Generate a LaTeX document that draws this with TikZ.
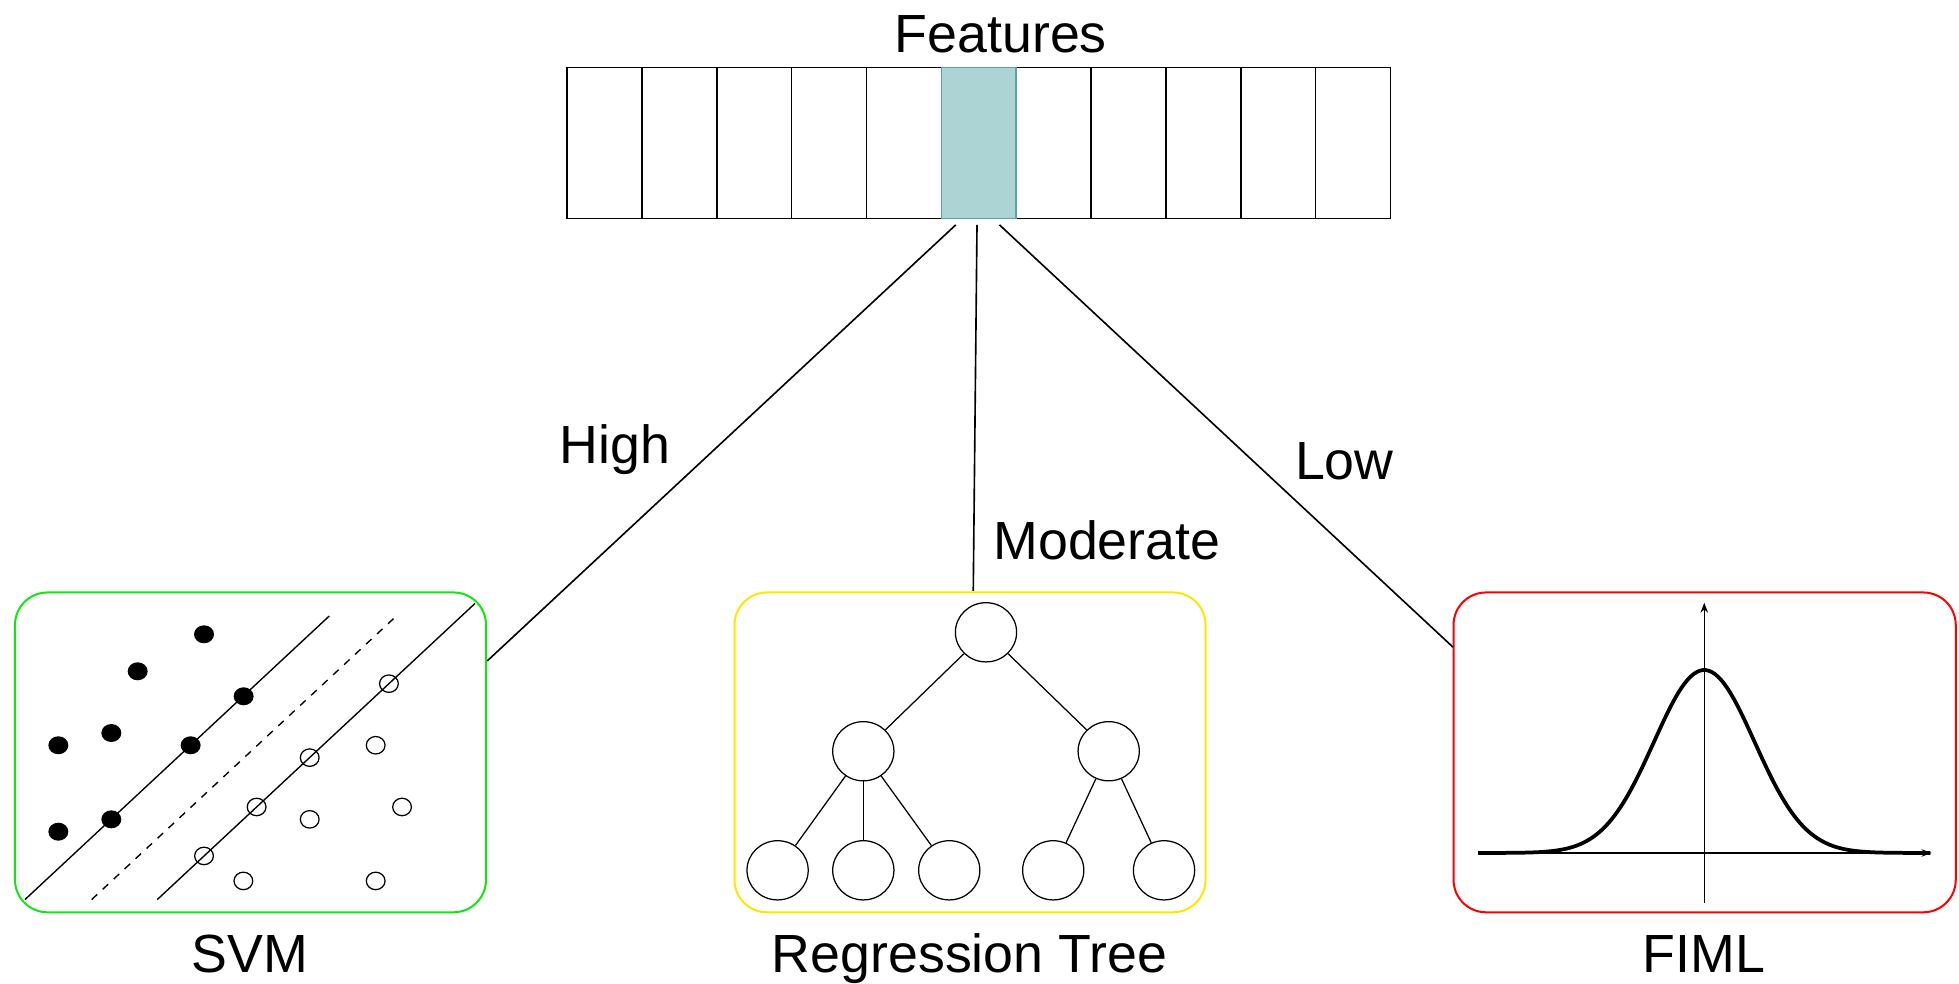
\documentclass[tikz,border=0pt]{standalone}
\usepackage{fontspec}
\setmainfont{Liberation Sans}
\usetikzlibrary{shapes.geometric,arrows.meta}
\definecolor{featfill}{RGB}{172,212,212}
\definecolor{featdraw}{RGB}{95,160,160}
\definecolor{svmgreen}{RGB}{20,230,20}
\definecolor{treeyellow}{RGB}{255,230,0}
\definecolor{fimlred}{RGB}{255,0,0}
\tikzset{
  lbl/.style={font=\fontsize{21.5}{25}\selectfont, inner sep=0pt, anchor=base},
  cell/.style={draw=black, line width=0.6pt, minimum width=29.95pt, minimum height=60.5pt, inner sep=0pt},
  hcell/.style={cell, draw=featdraw, fill=featfill},
  conn/.style={line width=0.65pt, black},
  panel/.style={line width=0.8pt, rounded corners=13pt, minimum width=188.5pt, minimum height=128pt, inner sep=0pt},
  tnode/.style={draw, ellipse, line width=0.5pt, minimum width=24.5pt, minimum height=23.7pt, inner sep=0pt},
  dotf/.style={ellipse, fill=black, minimum width=8pt, minimum height=7.2pt, inner sep=0pt},
  doto/.style={ellipse, draw=black, line width=0.5pt, minimum width=7.5pt, minimum height=7pt, inner sep=0pt},
  svmline/.style={line width=0.55pt},
  axis/.style={line width=0.55pt, -{Stealth[length=4pt,width=3pt]}},
  bell/.style={line width=1.5pt},
}
\begin{document}
\begin{tikzpicture}[x=0.5pt,y=-0.5pt]
\useasboundingbox (0,0) rectangle (1568,787);
% feature bar
\foreach \i in {1,...,11}{
  \pgfmathsetmacro{\cx}{454+59.9*(\i-0.5)}
  \ifnum\i=6
    \node[hcell] (c\i) at (\cx,114.5) {};
  \else
    \node[cell] (c\i) at (\cx,114.5) {};
  \fi
}
\node[hcell] at (c6) {};
\node[lbl] (feat) at (801,42) {Features};
% panels
\node[panel, draw=svmgreen] (svm) at (200.5,602.2) {};
\node[panel, draw=treeyellow] (tree) at (776.4,602.2) {};
\node[panel, draw=fimlred, minimum width=201pt] (fiml) at (1364.4,602.2) {};
\node[lbl] (svmlbl) at (200,778) {SVM};
\node[lbl] (treelbl) at (776,778) {Regression Tree};
\node[lbl] (fimllbl) at (1364,778) {FIML};
% connectors
\coordinate (hs) at (765,180);
\coordinate (ms) at (782,180);
\coordinate (ls) at (800,180);
\coordinate (he) at (390,529);
\coordinate (me) at (779,473);
\coordinate (le) at (1163,518);
\draw[conn] (hs) -- (he);
\draw[conn] (ms) -- (me);
\draw[conn] (ls) -- (le);
\node[lbl] (high) at (492,371) {High};
\node[lbl] (mod) at (886,448) {Moderate};
\node[lbl] (low) at (1076,384) {Low};
% SVM content
\coordinate (s1a) at (20,720); \coordinate (s1b) at (263.6,493);
\coordinate (sda) at (73.4,720); \coordinate (sdb) at (316.2,494);
\coordinate (s2a) at (125.9,720); \coordinate (s2b) at (380.2,483);
\draw[svmline] (s1a) -- (s1b);
\draw[svmline, dash pattern=on 3pt off 3pt] (sda) -- (sdb);
\draw[svmline] (s2a) -- (s2b);
\foreach \n/\x/\y in {f1/163.3/507.7, f2/110.2/537.3, f3/195/557.3, f4/46.7/596.5, f5/89.1/586.7, f6/152.6/596.5, f7/46.7/665.7, f8/89.1/655.8}
  \node[dotf] (\n) at (\x,\y) {};
\foreach \n/\x/\y in {o1/311.3/547.2, o2/300.7/596.5, o3/247.9/606.4, o4/321.8/645.9, o5/205.4/645.9, o6/247.9/655.8, o7/163.3/685.1, o8/194.8/705.1, o9/300.7/705.1}
  \node[doto] (\n) at (\x,\y) {};
% tree content
\node[tnode] (root) at (789.2,506.1) {};
\node[tnode] (l1) at (691,601.3) {};
\node[tnode] (r1) at (887.4,601.3) {};
\node[tnode] (a1) at (622.4,696.6) {};
\node[tnode] (a2) at (691,696.6) {};
\node[tnode] (a3) at (759.8,696.6) {};
\node[tnode] (b1) at (843,696.6) {};
\node[tnode] (b2) at (931.7,696.6) {};
\draw[line width=0.5pt] (root) -- (l1);
\draw[line width=0.5pt] (root) -- (r1);
\draw[line width=0.5pt] (l1) -- (a1);
\draw[line width=0.5pt] (l1) -- (a2);
\draw[line width=0.5pt] (l1) -- (a3);
\draw[line width=0.5pt] (r1) -- (b1);
\draw[line width=0.5pt] (r1) -- (b2);
% FIML content
\coordinate (vb) at (1364.1,722.5); \coordinate (vt) at (1364.1,482.4);
\coordinate (hl) at (1183.2,682.7); \coordinate (hr) at (1546,682.7);
\draw[axis] (vb) -- (vt);
\draw[axis] (hl) -- (hr);
\draw[bell] plot[domain=1183:1545, samples=150, smooth] (\x, {682.7 - 146.4*exp(-0.5*((\x-1364.1)/40.3)^2)});
\end{tikzpicture}
\end{document}
